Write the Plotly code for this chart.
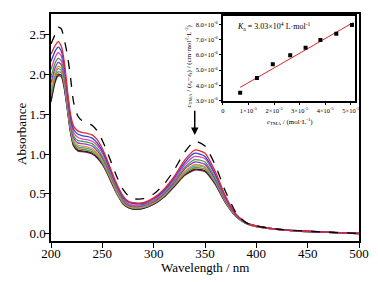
import plotly.graph_objects as go

wavelength = [200, 204, 207, 210, 213, 216, 219, 222, 226, 230, 235, 240, 245, 250, 255, 260,
              265, 270, 275, 280, 290, 300, 310, 320, 330, 340, 350, 360, 370, 380, 390, 400,
              420, 440, 470, 500]

a_free = [2.38, 2.50, 2.59, 2.57, 2.43, 2.24, 1.96, 1.65, 1.48, 1.42, 1.39, 1.36, 1.29, 1.17, 1.02, 0.85,
          0.69, 0.56, 0.48, 0.44, 0.44, 0.50, 0.62, 0.80, 1.02, 1.16, 1.10, 0.86, 0.53, 0.27, 0.14, 0.10,
          0.06, 0.04, 0.02, 0.005]

a_1 = [2.25, 2.36, 2.41, 2.35, 2.15, 1.80, 1.50, 1.35, 1.29, 1.27, 1.26, 1.24, 1.18, 1.07, 0.92, 0.75,
       0.60, 0.48, 0.41, 0.39, 0.39, 0.45, 0.56, 0.72, 0.92, 1.05, 1.01, 0.78, 0.47, 0.25, 0.14, 0.10,
       0.06, 0.04, 0.02, 0.005]
a_2 = [2.16, 2.29, 2.34, 2.29, 2.10, 1.76, 1.46, 1.31, 1.25, 1.23, 1.22, 1.20, 1.14, 1.04, 0.89, 0.73,
       0.58, 0.46, 0.40, 0.38, 0.38, 0.44, 0.54, 0.70, 0.89, 1.01, 0.97, 0.75, 0.46, 0.245, 0.138, 0.099,
       0.059, 0.039, 0.020, 0.005]
a_3 = [2.06, 2.21, 2.27, 2.23, 2.04, 1.72, 1.43, 1.27, 1.21, 1.19, 1.18, 1.16, 1.11, 1.01, 0.87, 0.71,
       0.56, 0.45, 0.38, 0.36, 0.37, 0.42, 0.53, 0.68, 0.86, 0.97, 0.94, 0.73, 0.44, 0.24, 0.137, 0.098,
       0.058, 0.038, 0.019, 0.005]
a_4 = [1.96, 2.14, 2.20, 2.17, 1.99, 1.68, 1.39, 1.23, 1.17, 1.16, 1.15, 1.13, 1.07, 0.97, 0.84, 0.68,
       0.54, 0.43, 0.37, 0.35, 0.36, 0.41, 0.51, 0.66, 0.83, 0.93, 0.90, 0.70, 0.43, 0.236, 0.135, 0.096,
       0.058, 0.038, 0.019, 0.004]
a_5 = [1.89, 2.08, 2.15, 2.12, 1.95, 1.65, 1.36, 1.20, 1.14, 1.13, 1.12, 1.10, 1.04, 0.95, 0.82, 0.67,
       0.53, 0.42, 0.36, 0.34, 0.35, 0.40, 0.50, 0.64, 0.81, 0.90, 0.87, 0.68, 0.42, 0.232, 0.134, 0.095,
       0.057, 0.037, 0.019, 0.004]
a_6 = [1.82, 2.03, 2.10, 2.08, 1.91, 1.62, 1.33, 1.17, 1.11, 1.10, 1.09, 1.07, 1.01, 0.93, 0.80, 0.65,
       0.51, 0.41, 0.35, 0.33, 0.34, 0.39, 0.49, 0.63, 0.78, 0.87, 0.84, 0.67, 0.41, 0.229, 0.133, 0.093,
       0.056, 0.036, 0.018, 0.004]
a_7 = [1.77, 1.99, 2.07, 2.05, 1.89, 1.60, 1.32, 1.15, 1.09, 1.08, 1.07, 1.05, 1.00, 0.91, 0.78, 0.64,
       0.50, 0.40, 0.35, 0.33, 0.33, 0.39, 0.48, 0.62, 0.77, 0.85, 0.83, 0.65, 0.41, 0.226, 0.132, 0.092,
       0.056, 0.036, 0.018, 0.004]
a_8 = [1.72, 1.96, 2.03, 2.02, 1.86, 1.58, 1.30, 1.13, 1.07, 1.06, 1.05, 1.03, 0.98, 0.89, 0.77, 0.63,
       0.49, 0.39, 0.34, 0.32, 0.33, 0.38, 0.47, 0.61, 0.75, 0.83, 0.81, 0.64, 0.40, 0.223, 0.131, 0.091,
       0.055, 0.035, 0.018, 0.003]
a_9 = [1.67, 1.92, 2.00, 1.99, 1.83, 1.56, 1.28, 1.11, 1.05, 1.04, 1.03, 1.01, 0.96, 0.88, 0.76, 0.62,
       0.49, 0.38, 0.33, 0.31, 0.32, 0.37, 0.46, 0.60, 0.74, 0.81, 0.79, 0.63, 0.39, 0.221, 0.130, 0.090,
       0.055, 0.035, 0.018, 0.003]
a_10 = [1.65, 1.90, 1.98, 1.97, 1.82, 1.55, 1.27, 1.10, 1.04, 1.03, 1.02, 1.00, 0.95, 0.87, 0.75, 0.61,
        0.48, 0.38, 0.33, 0.31, 0.32, 0.37, 0.46, 0.59, 0.73, 0.80, 0.78, 0.62, 0.39, 0.22, 0.13, 0.09,
        0.055, 0.035, 0.018, 0.003]

solid_series = [a_1, a_2, a_3, a_4, a_5, a_6, a_7, a_8, a_9, a_10]
solid_colors = ["#e8262a", "#2a46d6", "#e040c0", "#3ea03e", "#8a3cc8", "#f0902a",
                "#3aa8b8", "#8a8a20", "#222222", "#8a2040"]

# inset data
c_tma = [0.676e-5, 1.33e-5, 1.95e-5, 2.63e-5, 3.23e-5, 3.81e-5, 4.43e-5, 5.04e-5]
c_ratio = [3.50e-6, 4.48e-6, 5.39e-6, 5.98e-6, 6.48e-6, 6.98e-6, 7.39e-6, 7.98e-6]
fit_x = [0.676e-5, 5.09e-5]
fit_y = [3.86e-6, 8.14e-6]

inset_xticks = [0, 1e-5, 2e-5, 3e-5, 4e-5, 5e-5]
inset_xtext = ["0", "1×10<sup>-5</sup>", "2×10<sup>-5</sup>", "3×10<sup>-5</sup>",
               "4×10<sup>-5</sup>", "5×10<sup>-5</sup>"]
inset_yticks = [3e-6, 4e-6, 5e-6, 6e-6, 7e-6, 8e-6]
inset_ytext = ["3.0×10<sup>-6</sup>", "4.0×10<sup>-6</sup>", "5.0×10<sup>-6</sup>",
               "6.0×10<sup>-6</sup>", "7.0×10<sup>-6</sup>", "8.0×10<sup>-6</sup>"]

FONT = "Liberation Serif"

fig = go.Figure()
for ys, col in zip(reversed(solid_series), reversed(solid_colors)):
    fig.add_trace(go.Scatter(x=wavelength, y=ys, mode="lines",
                             line=dict(color=col, width=1.3, shape="spline", smoothing=0.6),
                             showlegend=False, hoverinfo="skip"))
fig.add_trace(go.Scatter(x=wavelength, y=a_free, mode="lines",
                         line=dict(color="black", width=1.3, dash="dash", shape="spline", smoothing=0.6),
                         showlegend=False))

fig.add_trace(go.Scatter(x=fit_x, y=fit_y, mode="lines", line=dict(color="#d8262a", width=1),
                         xaxis="x2", yaxis="y2", showlegend=False))
fig.add_trace(go.Scatter(x=c_tma, y=c_ratio, mode="markers",
                         marker=dict(symbol="square", size=4, color="black"),
                         xaxis="x2", yaxis="y2", showlegend=False))

axis_common = dict(showline=True, linecolor="black", linewidth=1.5, mirror=True,
                   ticks="outside", tickcolor="black", showgrid=False, zeroline=False)

fig.update_layout(
    width=370, height=274,
    margin=dict(l=43, r=19, t=4, b=41),
    paper_bgcolor="white", plot_bgcolor="white",
    font=dict(family=FONT, color="black"),
    xaxis=dict(range=[200, 500], dtick=50, tickfont=dict(size=13), ticklen=5, tickwidth=1.3,
               ticklabelstandoff=-5, **axis_common),
    yaxis=dict(range=[-0.09, 2.755], dtick=0.5, tickformat=".1f", tickfont=dict(size=13),
               ticklen=5, tickwidth=1.3, ticklabelstandoff=-4, **axis_common),
    xaxis2=dict(domain=[0.558, 0.987], anchor="y2", range=[0, 5.16e-5],
                tickvals=inset_xticks, ticktext=inset_xtext, tickfont=dict(size=6.5),
                ticklen=2, tickwidth=1, **axis_common),
    yaxis2=dict(domain=[0.616, 0.99], anchor="x2", range=[2.95e-6, 8.55e-6],
                tickvals=inset_yticks, ticktext=inset_ytext, tickfont=dict(size=6.5),
                ticklen=2, tickwidth=1, **axis_common),
    annotations=[
        dict(text="Absorbance", x=-0.094, y=0.472, xref="paper", yref="paper",
             xanchor="center", yanchor="middle",
             showarrow=False, textangle=-90, font=dict(size=13)),
        dict(text="Wavelength / nm", x=0.503, y=-0.118, xref="paper", yref="paper",
             xanchor="center", yanchor="middle",
             showarrow=False, font=dict(size=13)),
        dict(text="<i>K</i><sub>a</sub> = 3.03×10<sup>4</sup> L·mol<sup>-1</sup>",
             x=0.597, y=0.943, xref="paper", yref="paper", xanchor="left", yanchor="middle",
             showarrow=False, font=dict(size=8)),
        dict(text="<i>c</i><sub>TMA</sub> / (mol·L<sup>-1</sup>)", x=0.776, y=0.528,
             xref="paper", yref="paper", xanchor="center", yanchor="middle",
             showarrow=False, font=dict(size=7)),
        dict(text="<i>c</i><sub>TMA</sub> / (<i>ε</i><sub>a</sub>−<i>ε</i><sub>f</sub>) / (cm·mol<sup>2</sup>·L<sup>-2</sup>)",
             x=0.445, y=0.769, xref="paper", yref="paper", xanchor="center", yanchor="middle",
             showarrow=False, textangle=-90, font=dict(size=7)),
        dict(x=340, y=1.24, ax=340, ay=1.56, xref="x", yref="y", axref="x", ayref="y",
             text="", showarrow=True, arrowhead=2, arrowsize=1, arrowwidth=1.5,
             arrowcolor="black"),
    ],
)

fig.write_html("out.html")
